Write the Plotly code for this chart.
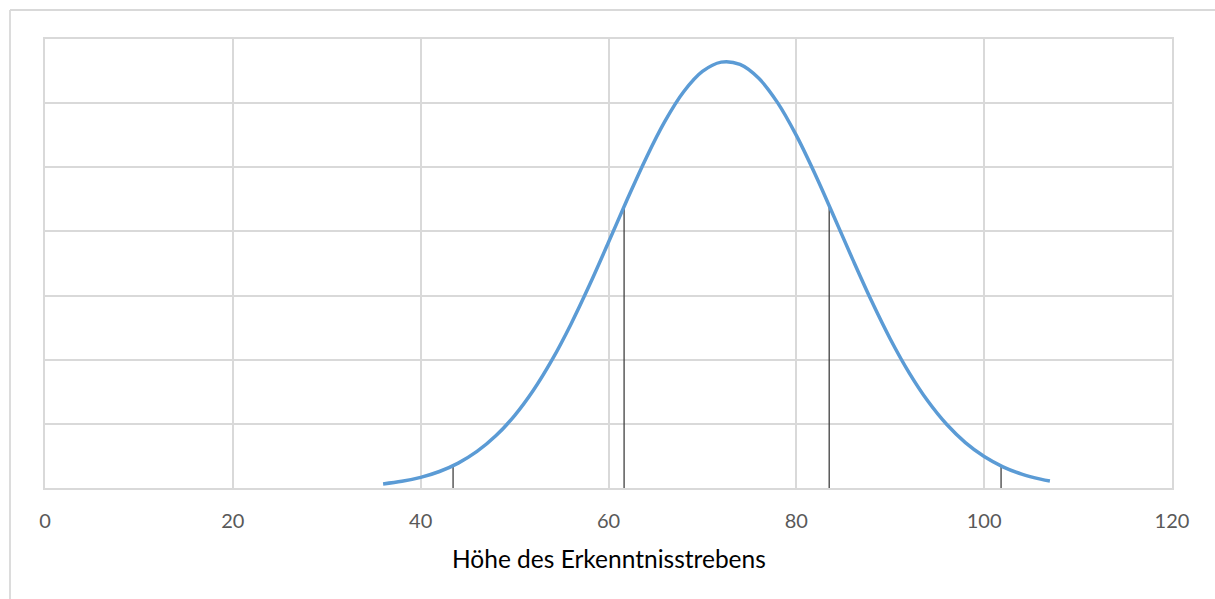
import plotly.graph_objects as go

# Distribution curve of "Höhe des Erkenntnisstrebens"
x_vals = [36, 38, 40, 42, 44, 46, 48, 50, 52, 54, 56, 58, 60, 62, 64, 66, 68, 70,
          72, 74, 76, 78, 80, 82, 84, 86, 88, 90, 92, 94, 96, 98, 100, 102, 104, 106, 107]
density = [0.000317, 0.000521, 0.000830, 0.001287, 0.001942, 0.002849, 0.004066,
           0.005642, 0.007616, 0.010000, 0.012769, 0.015857, 0.019154, 0.022503,
           0.025712, 0.028574, 0.030885, 0.032469, 0.033198, 0.033015, 0.031932,
           0.030039, 0.027484, 0.024458, 0.021169, 0.017820, 0.014590, 0.011617,
           0.008997, 0.006777, 0.004966, 0.003538, 0.002452, 0.001653, 0.001084,
           0.000691, 0.000546]

# Vertical marker lines under the curve
marker_x = [43.45, 61.66, 83.5, 101.8]
marker_h = [0.001738, 0.021937, 0.022004, 0.001722]

x_ticks = [0, 20, 40, 60, 80, 100, 120]
x_title = "Höhe des Erkenntnisstrebens"

mx, my = [], []
for xv, hv in zip(marker_x, marker_h):
    mx += [xv, xv, None]
    my += [0, hv, None]

fig = go.Figure()
fig.add_trace(go.Scatter(x=mx, y=my, mode="lines",
                         line=dict(color="#404040", width=1.3),
                         hoverinfo="skip", showlegend=False))
fig.add_trace(go.Scatter(x=x_vals, y=density, mode="lines",
                         line=dict(color="#5B9BD5", width=3.5, shape="spline"),
                         showlegend=False))

W, H = 1215, 599
L, R, T, B = 45, 43, 39, 111
pw, ph = W - L - R, H - T - B

def px_x(p):
    return (p - L) / pw

def px_y(p):
    return (H - B - p) / ph

grid = "#D9D9D9"

fig.update_layout(
    width=W, height=H,
    margin=dict(l=L, r=R, t=T, b=B),
    paper_bgcolor="white", plot_bgcolor="white",
    font=dict(family="Lato", color="#595959"),
    xaxis=dict(range=[0, 120], tickvals=x_ticks, ticktext=[str(v) for v in x_ticks],
               showgrid=True, gridcolor=grid, gridwidth=2,
               zeroline=False, showline=True, linecolor=grid, linewidth=2, mirror=True,
               ticks="outside", ticklen=14, tickcolor="rgba(0,0,0,0)",
               tickfont=dict(family="Lato", size=20, color="#595959")),
    yaxis=dict(range=[0, 0.035], dtick=0.005, showgrid=True, gridcolor=grid,
               gridwidth=2, zeroline=False,
               showline=True, linecolor=grid, linewidth=2, mirror=True,
               showticklabels=False),
    shapes=[
        dict(type="line", xref="paper", yref="paper",
             x0=px_x(10), x1=px_x(10), y0=px_y(10), y1=px_y(605),
             line=dict(color=grid, width=1.8)),
        dict(type="line", xref="paper", yref="paper",
             x0=px_x(10), x1=px_x(1220), y0=px_y(10), y1=px_y(10),
             line=dict(color=grid, width=1.8)),
    ],
    annotations=[
        dict(text=x_title, xref="paper", yref="paper", x=0.5, y=px_y(558),
             xanchor="center", yanchor="middle", showarrow=False,
             font=dict(family="Lato", size=24.5, color="#000000")),
    ],
)

fig.write_html("out.html")
